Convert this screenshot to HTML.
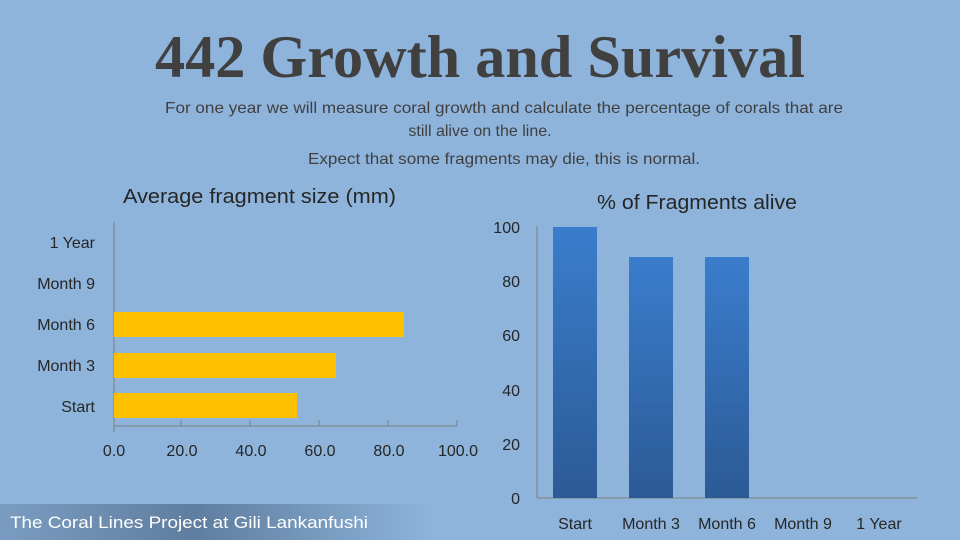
<!DOCTYPE html>
<html><head><meta charset="utf-8"><style>
html,body{margin:0;padding:0;width:960px;height:540px;overflow:hidden;background:#8eb4dc}
svg{display:block}
text{font-family:"Liberation Sans",sans-serif;fill:#262626}
</style></head><body>
<svg width="960" height="540" viewBox="0 0 960 540" xmlns="http://www.w3.org/2000/svg">
<defs>
<linearGradient id="bg" x1="0" y1="0" x2="0" y2="1">
<stop offset="0" stop-color="#3a7dcc"/><stop offset="1" stop-color="#2c5a96"/>
</linearGradient>
<linearGradient id="ft" x1="0" y1="0" x2="1" y2="0">
<stop offset="0" stop-color="#7b9cc2"/><stop offset="0.45" stop-color="#5f7d9f"/><stop offset="1" stop-color="#8eb4dc"/>
</linearGradient>
</defs>
<rect width="960" height="540" fill="#8eb4dc"/>
<text x="155" y="77" font-family="Liberation Serif" font-weight="bold" font-size="60" textLength="650" lengthAdjust="spacingAndGlyphs" style="font-family:'Liberation Serif',serif;fill:#404040">442 Growth and Survival</text>
<g style="fill:#404040">
<text x="165" y="113" font-size="16" textLength="678" lengthAdjust="spacingAndGlyphs" style="fill:#404040">For one year we will measure coral growth and calculate the percentage of corals that are</text>
<text x="480" y="136" font-size="16" text-anchor="middle" style="fill:#404040">still alive on the line.</text>
<text x="308" y="164" font-size="16" textLength="392" lengthAdjust="spacingAndGlyphs" style="fill:#404040">Expect that some fragments may die, this is normal.</text>
</g>
<!-- left chart -->
<text x="123" y="203" font-size="20" textLength="273" lengthAdjust="spacingAndGlyphs">Average fragment size (mm)</text>
<line x1="114" y1="222" x2="114" y2="426" stroke="#7f7f7f"/>
<line x1="114" y1="426" x2="457" y2="426" stroke="#7f7f7f"/>
<g stroke="#7f7f7f">
<line x1="114" y1="420" x2="114" y2="432"/><line x1="181" y1="420" x2="181" y2="426"/><line x1="250" y1="420" x2="250" y2="426"/><line x1="319" y1="420" x2="319" y2="426"/><line x1="388" y1="420" x2="388" y2="426"/><line x1="457" y1="420" x2="457" y2="426"/>
</g>
<rect x="114" y="312" width="290" height="25" fill="#ffc000"/>
<rect x="114" y="353" width="222" height="25" fill="#ffc000"/>
<rect x="114" y="393" width="183" height="25" fill="#ffc000"/>
<g font-size="16" text-anchor="end">
<text x="95" y="248">1 Year</text><text x="95" y="289">Month 9</text><text x="95" y="330">Month 6</text><text x="95" y="371">Month 3</text><text x="95" y="412">Start</text>
</g>
<g font-size="16" text-anchor="middle">
<text x="114" y="456">0.0</text><text x="182" y="456">20.0</text><text x="251" y="456">40.0</text><text x="320" y="456">60.0</text><text x="389" y="456">80.0</text><text x="458" y="456">100.0</text>
</g>
<!-- right chart -->
<text x="597" y="209" font-size="20" textLength="200" lengthAdjust="spacingAndGlyphs">% of Fragments alive</text>
<line x1="537" y1="226" x2="537" y2="498" stroke="#7f7f7f"/>
<line x1="537" y1="498" x2="917" y2="498" stroke="#7f7f7f"/>
<rect x="553" y="227" width="44" height="271" fill="url(#bg)"/>
<rect x="629" y="257" width="44" height="241" fill="url(#bg)"/>
<rect x="705" y="257" width="44" height="241" fill="url(#bg)"/>
<g font-size="16" text-anchor="end">
<text x="520" y="233">100</text><text x="520" y="287">80</text><text x="520" y="341">60</text><text x="520" y="396">40</text><text x="520" y="450">20</text><text x="520" y="504">0</text>
</g>
<g font-size="16" text-anchor="middle">
<text x="575" y="529">Start</text><text x="651" y="529">Month 3</text><text x="727" y="529">Month 6</text><text x="803" y="529">Month 9</text><text x="879" y="529">1 Year</text>
</g>
<!-- footer -->
<rect x="0" y="504" width="435" height="36" fill="url(#ft)"/>
<text x="10" y="528" font-size="17" textLength="358" lengthAdjust="spacingAndGlyphs" style="fill:#ffffff">The Coral Lines Project at Gili Lankanfushi</text>
</svg>
</body></html>
